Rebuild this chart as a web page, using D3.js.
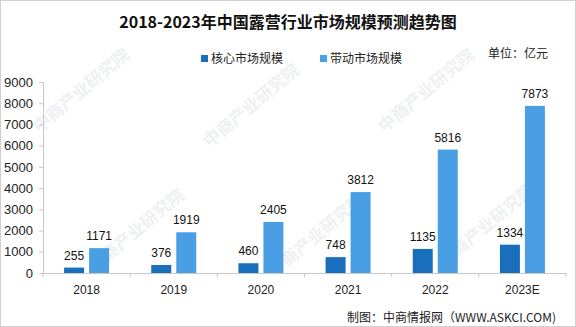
<!DOCTYPE html>
<html>
<head>
<meta charset="utf-8">
<script src="https://cdn.jsdelivr.net/npm/d3@7"></script>
<style>
  body { margin: 0; background: #fff; }
  svg { display: block; }
</style>
</head>
<body>
<svg id="chart" width="576" height="327"></svg>
<script>
var years = ["2018", "2019", "2020", "2021", "2022", "2023E"];
var coreValues = [255, 376, 460, 748, 1135, 1334];
var drivenValues = [1171, 1919, 2405, 3812, 5816, 7873];
var yTicks = [0, 1000, 2000, 3000, 4000, 5000, 6000, 7000, 8000, 9000];
var seriesNames = ["核心市场规模", "带动市场规模"];
var colors = ["#1a6fbd", "#4a9fe4"];

var svg = d3.select("#chart"),
  WIDTH = 576,
  HEIGHT = 327,
  MARGINS = { top: 82, right: 10, bottom: 54, left: 43 };

// frame
svg.append("rect")
  .attr("x", 0.5).attr("y", 0.5)
  .attr("width", WIDTH - 1).attr("height", HEIGHT - 1)
  .attr("fill", "#fff").attr("stroke", "#d0d0d0");

// faint watermarks
var marks = [[85, 95], [255, 110], [430, 95], [140, 235], [320, 240], [490, 230]];
svg.selectAll(".wm").data(marks).enter().append("text")
  .attr("class", "wm")
  .attr("transform", function(d) { return "translate(" + d[0] + "," + d[1] + ") rotate(-40)"; })
  .attr("text-anchor", "middle")
  .attr("font-family", "Noto Sans CJK SC")
  .attr("font-size", 17)
  .attr("font-weight", "bold")
  .attr("fill", "#eef0f3")
  .text("中商产业研究院");

var xScale = d3.scaleBand().domain(years).range([MARGINS.left, 566]);
var yScale = d3.scaleLinear().domain([0, 9000]).range([273, 82]);

// x axis
var xAxis = d3.axisBottom(xScale).tickSize(0).tickPadding(12);
var gx = svg.append("g")
  .attr("transform", "translate(0,273)")
  .call(xAxis);
gx.select(".domain").attr("stroke", "#c8c8c8");
gx.selectAll("text").attr("font-family", "Liberation Sans, Arial, sans-serif").attr("font-size", 12).attr("fill", "#222");
// band boundary ticks
var bounds = years.map(function(y) { return xScale(y); }).concat([566]);
gx.selectAll(".bt").data(bounds).enter().append("line")
  .attr("x1", function(d) { return d; }).attr("x2", function(d) { return d; })
  .attr("y1", 0).attr("y2", 4)
  .attr("stroke", "#c8c8c8");

// y axis
var yAxis = d3.axisLeft(yScale).tickValues(yTicks).tickSize(4).tickPadding(6).tickFormat(d3.format("d"));
var gy = svg.append("g")
  .attr("transform", "translate(" + MARGINS.left + ",0)")
  .call(yAxis);
gy.select(".domain").attr("stroke", "#c8c8c8");
gy.selectAll(".tick line").attr("stroke", "#c8c8c8");
gy.selectAll("text").attr("font-family", "Liberation Sans, Arial, sans-serif").attr("font-size", 13).attr("fill", "#222");

// bars
var barW = 20, gap = 5;
var series = [coreValues, drivenValues];
series.forEach(function(vals, si) {
  var g = svg.append("g");
  g.selectAll("rect").data(vals).enter().append("rect")
    .attr("x", function(d, i) {
      var c = xScale(years[i]) + xScale.bandwidth() / 2;
      return si === 0 ? c - gap / 2 - barW : c + gap / 2;
    })
    .attr("y", function(d) { return yScale(d); })
    .attr("width", barW)
    .attr("height", function(d) { return 273 - yScale(d); })
    .attr("fill", colors[si]);
  g.selectAll("text").data(vals).enter().append("text")
    .attr("x", function(d, i) {
      var c = xScale(years[i]) + xScale.bandwidth() / 2;
      return si === 0 ? c - gap / 2 - barW / 2 : c + gap / 2 + barW / 2;
    })
    .attr("y", function(d) { return yScale(d) - 8; })
    .attr("text-anchor", "middle")
    .attr("font-family", "Liberation Sans, Arial, sans-serif")
    .attr("font-size", 12)
    .attr("fill", "#111")
    .text(function(d) { return d; });
});

// title
svg.append("text")
  .attr("x", 288).attr("y", 28)
  .attr("text-anchor", "middle")
  .attr("font-family", "Noto Sans CJK SC")
  .attr("font-weight", "bold")
  .attr("font-size", 16)
  .attr("fill", "#111")
  .text("2018-2023年中国露营行业市场规模预测趋势图");

// legend
var legendX = [201, 320];
seriesNames.forEach(function(name, i) {
  svg.append("rect")
    .attr("x", legendX[i]).attr("y", 55)
    .attr("width", 7).attr("height", 7)
    .attr("fill", colors[i]);
  svg.append("text")
    .attr("x", legendX[i] + 10).attr("y", 63)
    .attr("font-family", "Noto Sans CJK SC")
    .attr("font-size", 12)
    .attr("fill", "#222")
    .text(name);
});

svg.append("text")
  .attr("x", 548).attr("y", 58)
  .attr("text-anchor", "end")
  .attr("font-family", "Noto Sans CJK SC")
  .attr("font-size", 12)
  .attr("fill", "#222")
  .text("单位：亿元");

svg.append("text")
  .attr("x", 556).attr("y", 322)
  .attr("text-anchor", "end")
  .attr("font-family", "Noto Sans CJK SC")
  .attr("font-size", 12)
  .attr("fill", "#222")
  .text("制图：中商情报网（WWW.ASKCI.COM)");
</script>
</body>
</html>
